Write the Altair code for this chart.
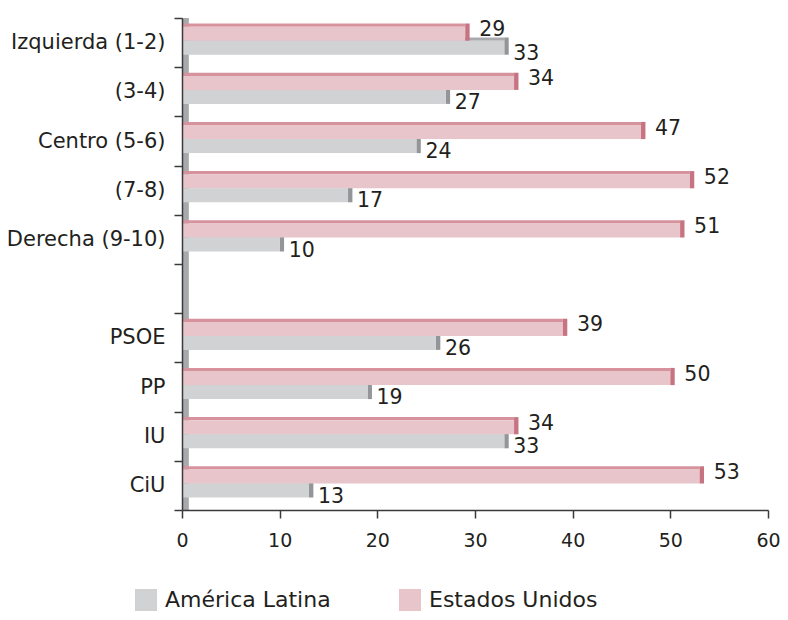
import altair as alt
import pandas as pd

categories = ["Izquierda (1-2)", "(3-4)", "Centro (5-6)", "(7-8)", "Derecha (9-10)",
              " ", "PSOE", "PP", "IU", "CiU"]
estados_unidos = [29, 34, 47, 52, 51, None, 39, 50, 34, 53]
america_latina = [33, 27, 24, 17, 10, None, 26, 19, 33, 13]
series = ["Estados Unidos", "América Latina"]
legend_order = ["América Latina", "Estados Unidos"]
x_ticks = [0, 10, 20, 30, 40, 50, 60]

rows = []
for c, us, la in zip(categories, estados_unidos, america_latina):
    if us is not None:
        rows.append({"cat": c, "serie": "Estados Unidos", "v": us})
    if la is not None:
        rows.append({"cat": c, "serie": "América Latina", "v": la})
df = pd.DataFrame(rows)

W, H = 586, 492
FONT = "DejaVu Sans"
TXT = "#231F20"
PINK, PINK_D, PINK_T = "#E8C5CA", "#C77482", "#D7939D"
GREY, GREY_D, GREY_T = "#D1D2D4", "#939598", "#A9AAAD"
WALL = "#A7A9AC"
AXC = "#3A3A3A"
CAP = 0.45

base = alt.Chart(df)
is_us = alt.datum.serie == "Estados Unidos"
base_us = base.transform_filter(is_us)
base_la = base.transform_filter(~is_us)

y_enc = alt.Y("cat:N", scale=alt.Scale(domain=categories, paddingInner=0, paddingOuter=0),
              axis=alt.Axis(title=None, tickBand="extent", tickSize=8, labelPadding=9,
                            labelFontSize=21, labelFont=FONT, labelColor=TXT,
                            domainColor=AXC, tickColor=AXC, domainWidth=1.5, tickWidth=1.5,
                            zindex=1, labelLimit=300))
x_enc = alt.X("v:Q", scale=alt.Scale(domain=[0, 60], nice=False),
              axis=alt.Axis(title=None, values=x_ticks, tickSize=8, labelPadding=13,
                            labelFontSize=19, labelFont=FONT, labelColor=TXT, grid=False,
                            labelFlush=False, labelOverlap=False,
                            domainColor=AXC, tickColor=AXC, domainWidth=1.5, tickWidth=1.5,
                            zindex=1))

main_off = alt.YOffset("serie:N", scale=alt.Scale(domain=series, paddingInner=0,
                                                  paddingOuter=0.757, align=0.41))
strip_off = alt.YOffset("serie:N", scale=alt.Scale(domain=series + ["_"], paddingInner=0.771,
                                                   paddingOuter=0.643, align=0.306))
cap_us_off = alt.YOffset("serie:N", scale=alt.Scale(domain=series, paddingInner=0,
                                                    paddingOuter=0.43, align=0.372))
cap_la_off = alt.YOffset("serie:N", scale=alt.Scale(domain=series, paddingInner=0,
                                                    paddingOuter=0.43, align=0.155))

wall = alt.Chart(alt.Data(values=[{"a": 1}])).mark_rect(color=WALL).encode(
    x=alt.datum(0), x2=alt.datum(0.7), y=alt.value(0), y2=alt.value(H))

strips = base.mark_bar(cornerRadius=0).encode(
    y=y_enc, yOffset=strip_off, x=x_enc, x2=alt.datum(0),
    color=alt.condition(is_us, alt.value(PINK_T), alt.value(GREY_T)))

cap_la = base_la.transform_calculate(v2=alt.datum.v + CAP).mark_bar(color=GREY_D).encode(
    y=y_enc, yOffset=cap_la_off, x=x_enc, x2="v2:Q")

bars = base.mark_bar().encode(
    y=y_enc, yOffset=main_off, x=x_enc,
    color=alt.Color("serie:N", scale=alt.Scale(domain=legend_order, range=[GREY, PINK]),
                    legend=alt.Legend(title=None, orient="none", legendX=-47, legendY=571,
                                      direction="horizontal", symbolType="square",
                                      symbolSize=484, symbolStrokeWidth=0,
                                      labelFontSize=22, labelFont=FONT, labelColor=TXT,
                                      labelOffset=8, columnPadding=68, padding=0,
                                      labelLimit=400)))

cap_us = base_us.transform_calculate(v2=alt.datum.v + CAP).mark_bar(color=PINK_D).encode(
    y=y_enc, yOffset=cap_us_off, x=x_enc, x2="v2:Q")

lab_us = base_us.mark_text(
    align="left", baseline="middle", dx=14, dy=0, fontSize=20.5, font=FONT, color=TXT
).encode(y=y_enc, yOffset=main_off, x=x_enc, text="v:Q")

lab_la = base_la.mark_text(
    align="left", baseline="middle", dx=9, dy=4, fontSize=20.5, font=FONT, color=TXT
).encode(y=y_enc, yOffset=main_off, x=x_enc, text="v:Q")

chart = alt.layer(wall, strips, cap_la, bars, cap_us, lab_us, lab_la).resolve_scale(
    yOffset="independent", color="independent"
).properties(
    width=W, height=H,
    autosize=alt.AutoSizeParams(type="none"),
    padding={"left": 174, "top": 10, "right": 12, "bottom": 102},
).configure(background="white").configure_view(stroke="transparent", strokeWidth=0)

chart.save("out.html", embed_options={"renderer": "svg", "actions": False})
